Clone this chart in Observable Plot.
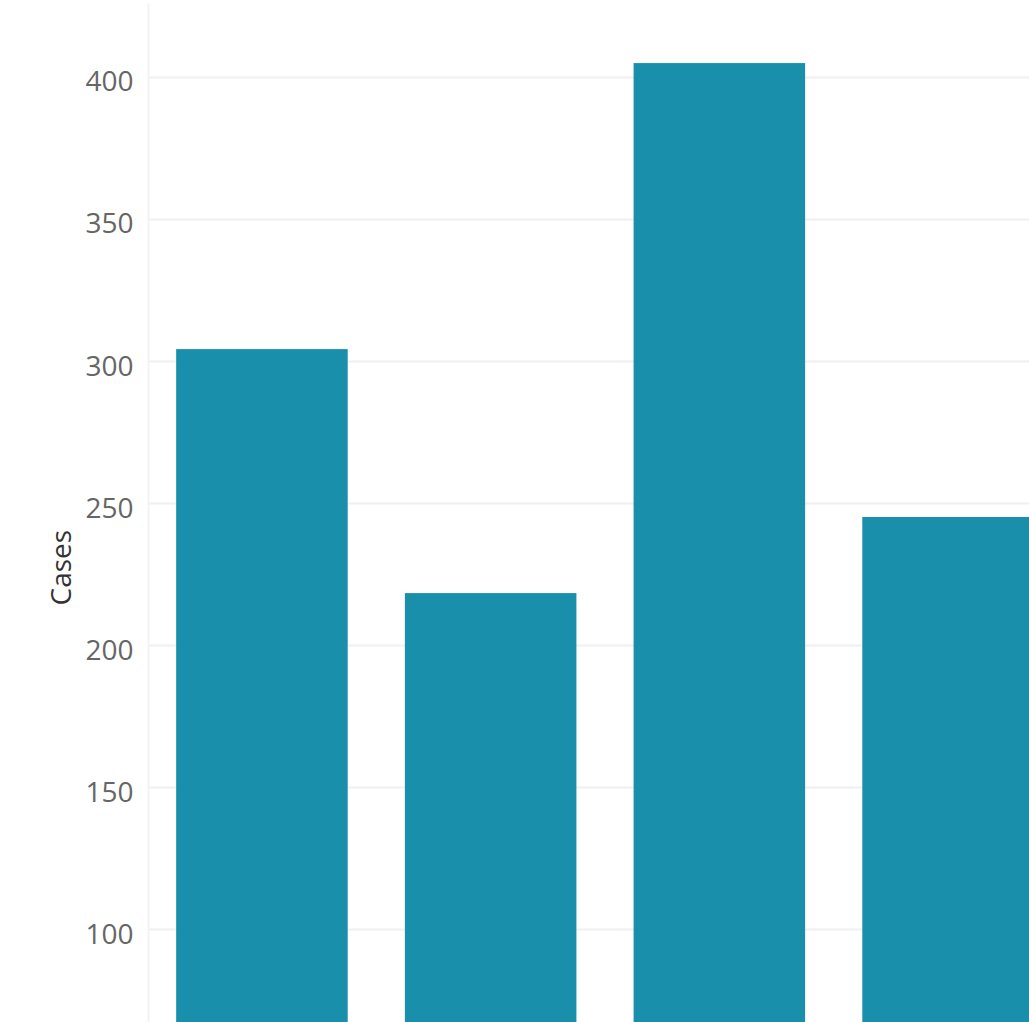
<!DOCTYPE html>
<html>
<head>
<meta charset="utf-8">
<script src="https://cdn.jsdelivr.net/npm/d3@7"></script>
<script src="https://cdn.jsdelivr.net/npm/@observablehq/plot@0.6"></script>
<style>
  html, body { margin: 0; padding: 0; background: #fff; }
  #chart svg { display: block; }
</style>
</head>
<body>
<div id="chart"></div>
<script>
const categories = ["A", "B", "C", "D"];
const cases = [304.2, 218.3, 404.9, 245.1];
const yTicks = [100, 150, 200, 250, 300, 350, 400];
const yTitle = ["Cases"];

const data = categories.map((c, i) => ({category: c, cases: cases[i]}));

const chart = Plot.plot({
  width: 1029,
  height: 1022,
  marginLeft: 148,
  marginRight: 0,
  marginTop: 4,
  marginBottom: 0,
  style: {fontFamily: "'Open Sans', sans-serif", fontSize: "28px", background: "#fff"},
  x: {domain: categories, range: [119, 1091], padding: 0.25, round: false, axis: null},
  y: {domain: [67.3, 425.7], axis: null},
  marks: [
    Plot.gridY(yTicks, {stroke: "#f0f0f0", strokeOpacity: 1, strokeWidth: 2}),
    Plot.frame({anchor: "left", stroke: "#f3f3f3", strokeOpacity: 1, strokeWidth: 2}),
    Plot.barY(data, {x: "category", y: "cases", fill: "#198fab", clip: true}),
    Plot.axisY(yTicks, {
      tickSize: 0,
      tickPadding: 15,
      color: "#666",
      fontSize: 28,
      dy: 5,
      label: null
    }),
    Plot.text(yTitle, {
      frameAnchor: "left",
      rotate: -90,
      dx: -86,
      dy: 92,
      fill: "#333",
      fontSize: 28
    })
  ]
});
document.getElementById("chart").appendChild(chart);
</script>
</body>
</html>
